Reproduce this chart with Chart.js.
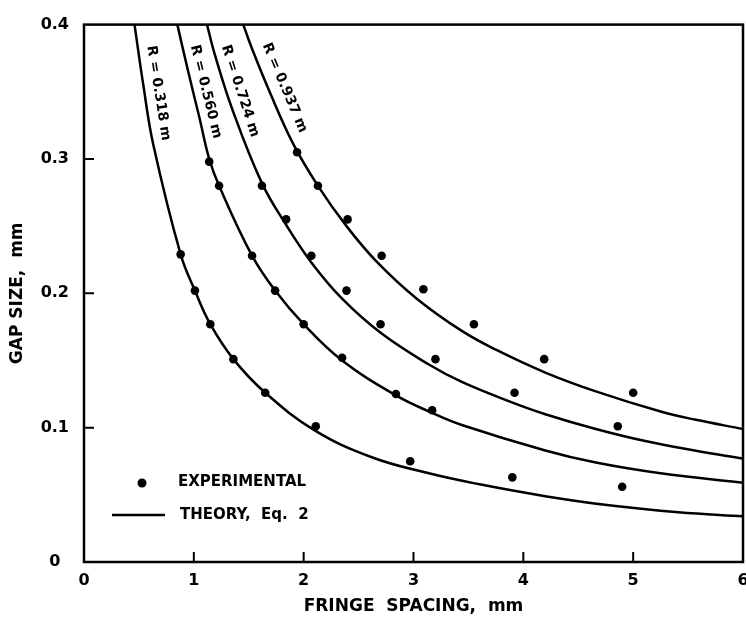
<!DOCTYPE html>
<html>
<head>
<meta charset="utf-8">
<title>Gap size vs fringe spacing</title>
<script src="https://cdn.jsdelivr.net/npm/chart.js"></script>
<style>
  html, body { margin: 0; padding: 0; background: #fff; overflow: hidden; }
  canvas { display: block; }
</style>
</head>
<body>
<canvas id="myChart" width="760" height="624"></canvas>
<script>
// theory curves (fringe spacing mm, gap size mm)
const r318X = [0.46, 0.54, 0.63, 0.88, 1.01, 1.15, 1.36, 1.65, 2.10, 2.62, 3.14, 3.59, 4.20, 4.80, 5.41, 6.0];
const r318Y = [0.400, 0.355, 0.311, 0.229, 0.202, 0.177, 0.151, 0.126, 0.098, 0.078, 0.066, 0.058, 0.049, 0.042, 0.037, 0.034];

const r560X = [0.85, 0.94, 1.05, 1.14, 1.23, 1.53, 1.74, 2.00, 2.35, 2.84, 3.17, 3.44, 4.20, 4.66, 5.25, 6.0];
const r560Y = [0.400, 0.368, 0.331, 0.300, 0.280, 0.228, 0.202, 0.177, 0.150, 0.124, 0.111, 0.102, 0.083, 0.074, 0.066, 0.059];

const r724X = [1.12, 1.19, 1.35, 1.62, 1.84, 2.07, 2.35, 2.71, 3.14, 3.44, 3.89, 4.20, 4.66, 5.11, 5.56, 6.0];
const r724Y = [0.400, 0.378, 0.337, 0.282, 0.251, 0.223, 0.196, 0.170, 0.147, 0.134, 0.119, 0.110, 0.099, 0.090, 0.083, 0.077];

const r937X = [1.45, 1.53, 1.69, 1.90, 2.13, 2.39, 2.66, 3.03, 3.44, 3.75, 4.20, 4.66, 5.25, 5.56, 6.0];
const r937Y = [0.400, 0.382, 0.350, 0.312, 0.280, 0.250, 0.224, 0.196, 0.172, 0.158, 0.141, 0.127, 0.112, 0.106, 0.099];

// experimental points
const expX = [0.88, 1.01, 1.15, 1.36, 1.65, 2.11, 2.97, 3.90, 4.90,
              1.14, 1.23, 1.53, 1.74, 2.00, 2.35, 2.84, 3.17, 4.86,
              1.62, 1.84, 2.07, 2.39, 2.70, 3.20, 3.92, 5.00,
              1.94, 2.13, 2.40, 2.71, 3.09, 3.55, 4.19];
const expY = [0.229, 0.202, 0.177, 0.151, 0.126, 0.101, 0.075, 0.063, 0.056,
              0.298, 0.280, 0.228, 0.202, 0.177, 0.152, 0.125, 0.113, 0.101,
              0.280, 0.255, 0.228, 0.202, 0.177, 0.151, 0.126, 0.126,
              0.305, 0.280, 0.255, 0.228, 0.203, 0.177, 0.151];

const curveNames = ["R = 0.318 m", "R = 0.560 m", "R = 0.724 m", "R = 0.937 m"];
const xTicks = [0, 1, 2, 3, 4, 5, 6];
const yTicks = [0, 0.1, 0.2, 0.3, 0.4];

// where the curve names sit (data coords) and their slant in degrees
const nameAt = [
  { x: 0.677, y: 0.3490, angle: 81 },
  { x: 1.109, y: 0.3500, angle: 76 },
  { x: 1.421, y: 0.3505, angle: 72 },
  { x: 1.826, y: 0.3530, angle: 67 },
];

const FONT = '"DejaVu Sans", "Liberation Sans", sans-serif';
Chart.defaults.font.family = FONT;
Chart.defaults.font.weight = "bold";
Chart.defaults.color = "#000";

const toPoints = (xs, ys) => xs.map((x, i) => ({ x: x, y: ys[i] }));

const curveSets = [[r318X, r318Y], [r560X, r560Y], [r724X, r724Y], [r937X, r937Y]].map((c, i) => ({
  label: curveNames[i],
  data: toPoints(c[0], c[1]),
  showLine: true,
  borderColor: "#000",
  borderWidth: 2.5,
  pointRadius: 0,
  tension: 0.4,
}));

const frameAndText = {
  id: "frameAndText",
  afterDatasetsDraw(chart) {
    const { ctx, chartArea: a, scales: { x, y } } = chart;
    ctx.save();
    ctx.strokeStyle = "#000";
    ctx.lineWidth = 2.5;
    ctx.strokeRect(a.left, a.top, a.right - a.left, a.bottom - a.top);

    // inward tick marks
    ctx.lineWidth = 2;
    ctx.beginPath();
    yTicks.slice(1, -1).forEach(v => {
      const p = y.getPixelForValue(v);
      ctx.moveTo(a.left, p);
      ctx.lineTo(a.left + 10, p);
    });
    xTicks.slice(1, -1).forEach(v => {
      const p = x.getPixelForValue(v);
      ctx.moveTo(p, a.bottom);
      ctx.lineTo(p, a.bottom - 10);
    });
    ctx.stroke();

    // curve names
    ctx.fillStyle = "#000";
    ctx.font = "bold 14px " + FONT;
    ctx.textAlign = "center";
    ctx.textBaseline = "middle";
    nameAt.forEach((n, i) => {
      ctx.save();
      ctx.translate(x.getPixelForValue(n.x), y.getPixelForValue(n.y));
      ctx.rotate(n.angle * Math.PI / 180);
      ctx.fillText(curveNames[i], 0, 0);
      ctx.restore();
    });

    // legend
    ctx.font = "bold 15px " + FONT;
    ctx.textAlign = "left";
    ctx.beginPath();
    ctx.arc(a.left + 58, a.bottom - 79, 4.5, 0, Math.PI * 2);
    ctx.fill();
    ctx.fillText("EXPERIMENTAL", a.left + 94, a.bottom - 80);
    ctx.lineWidth = 2.5;
    ctx.beginPath();
    ctx.moveTo(a.left + 28, a.bottom - 47);
    ctx.lineTo(a.left + 81, a.bottom - 47);
    ctx.stroke();
    ctx.fillText("THEORY,  Eq.  2", a.left + 96, a.bottom - 47);
    ctx.restore();
  }
};

const ctx = document.getElementById("myChart");
new Chart(ctx, {
  type: "scatter",
  data: {
    datasets: [
      ...curveSets,
      {
        label: "EXPERIMENTAL",
        data: toPoints(expX, expY),
        pointRadius: 4.3,
        pointBackgroundColor: "#000",
        pointBorderWidth: 0,
        showLine: false,
      },
    ],
  },
  options: {
    responsive: false,
    animation: false,
    devicePixelRatio: 1,
    layout: { padding: { top: 15, right: 17, bottom: 0, left: 0 } },
    plugins: {
      legend: { display: false },
      tooltip: { enabled: false },
    },
    scales: {
      x: {
        type: "linear",
        min: 0,
        max: 6,
        afterBuildTicks: s => { s.ticks = xTicks.map(v => ({ value: v })); },
        afterFit: s => { s.height = 62; },
        grid: { display: false, drawTicks: false },
        border: { display: false },
        ticks: { font: { size: 16, weight: "bold" }, padding: 9, maxRotation: 0 },
        title: {
          display: true,
          text: "FRINGE  SPACING,  mm",
          font: { size: 17, weight: "bold" },
          padding: { top: 0, bottom: 7 },
        },
      },
      y: {
        type: "linear",
        min: 0,
        max: 0.4,
        afterBuildTicks: s => { s.ticks = yTicks.map(v => ({ value: v })); },
        afterFit: s => { s.width = 84; },
        grid: { display: false, drawTicks: false },
        border: { display: false },
        ticks: {
          font: { size: 16, weight: "bold" },
          padding: 15,
          crossAlign: "center",
          callback: v => (v === 0 ? "0" : v.toFixed(1)),
        },
        title: {
          display: true,
          text: "GAP SIZE,  mm",
          font: { size: 17, weight: "bold" },
          padding: { top: 7, bottom: 0 },
        },
      },
    },
  },
  plugins: [frameAndText],
});
</script>
</body>
</html>
